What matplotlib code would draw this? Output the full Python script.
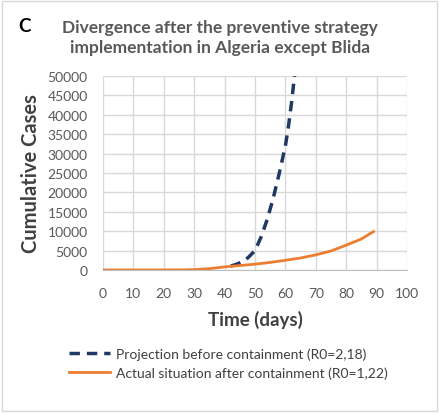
import matplotlib
matplotlib.use("Agg")
import matplotlib.pyplot as plt
from matplotlib.patches import Rectangle

plt.rcParams['font.family'] = ['Lato', 'DejaVu Sans']

proj_days = [42, 44, 46, 47, 48, 50, 52, 54, 56, 58, 60, 61, 62, 63]
proj_cases = [1000, 1500, 2200, 2700, 3400, 5000, 8500, 13000, 18500, 25000, 32000, 37000, 43000, 50000]

act_days = [0, 10, 20, 25, 30, 35, 40, 45, 50, 55, 60, 65, 70, 75, 80, 85, 89]
act_cases = [0, 0, 0, 30, 100, 350, 800, 1150, 1500, 1950, 2500, 3100, 3900, 4900, 6400, 8000, 9900]

x_ticks = list(range(0, 101, 10))
y_ticks = list(range(0, 50001, 5000))

W, H = 440, 414
fig = plt.figure(figsize=(W/100, H/100), dpi=100)
fig.patches.append(Rectangle((0.004, 0.004), 0.99, 0.99, transform=fig.transFigure,
                             fill=False, edgecolor='#d9d9d9', lw=1))
ax = fig.add_axes([103/W, 1-271/H, (407-103)/W, (271-77)/H])

ax.plot(proj_days, proj_cases, color='#1f3864', lw=2.5, ls=(0, (3, 2)),
        label='Projection before containment (R0=2,18)')
ax.plot(act_days, act_cases, color='#ed7d31', lw=2,
        label='Actual situation after containment (R0=1,22)')

ax.set_xlim(0, 100)
ax.set_ylim(0, 50000)
ax.set_xticks(x_ticks)
ax.set_yticks(y_ticks)
ax.grid(True, color='#d9d9d9', lw=1)
ax.set_axisbelow(True)
for s in ['top', 'right', 'left']:
    ax.spines[s].set_visible(False)
ax.spines['bottom'].set_color('#bfbfbf')
ax.tick_params(length=0, labelsize=10, labelcolor='#595959')
ax.tick_params(axis='y', pad=11)
ax.tick_params(axis='x', pad=12)

ax.set_xlabel('Time (days)', fontsize=13.5, fontweight='bold', color='#404040', labelpad=8)
ax.set_ylabel('Cumulative Cases', fontsize=14.5, fontweight='bold', color='#404040', labelpad=5)

fig.text(18/W, 1-26/H, 'C', fontsize=13.5, fontweight='bold', color='#000000', va='center')
fig.text(220/W, 1-38/H, 'Divergence after the preventive strategy\nimplementation in Algeria except Blida',
         fontsize=12.5, fontweight='bold', color='#595959', ha='center', va='center', linespacing=1.25)

fig.legend(loc='upper left', bbox_to_anchor=(56/W, 1-336/H), frameon=False,
           fontsize=10, labelcolor='#404040', handlelength=3.0, handletextpad=0.4, labelspacing=0.45)

fig.savefig('out.png', dpi=100)
